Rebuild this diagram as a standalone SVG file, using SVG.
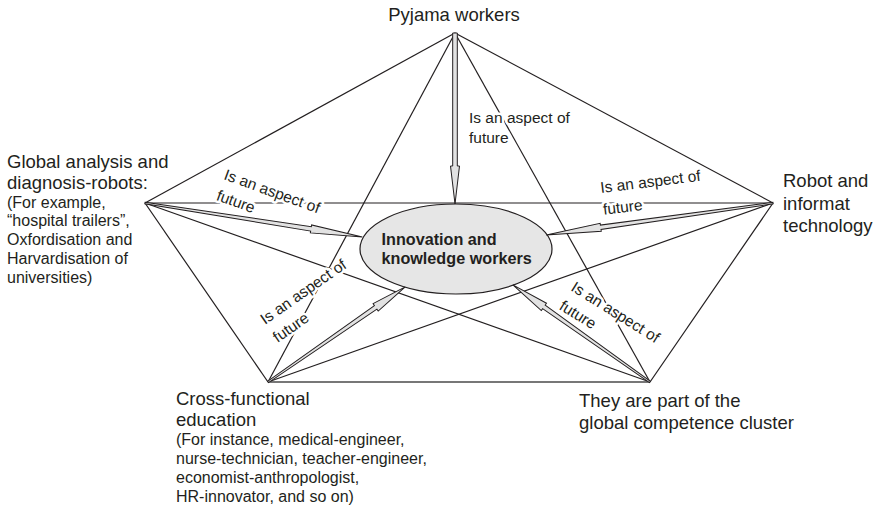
<svg xmlns="http://www.w3.org/2000/svg" width="878" height="510" viewBox="0 0 878 510">
<style>
  .edge { stroke: #231f20; stroke-width: 1.2; fill: none; }
  .base { stroke: #4a4a4a; stroke-width: 1.7; fill: none; }
  .arrow { fill: #e2e2e2; stroke: #231f20; stroke-width: 1; stroke-linejoin: miter; }
  .node { font-family: "Liberation Sans", Arial, sans-serif; font-size: 18.5px; fill: #231f20; }
  .small { font-size: 16px; }
  .center { font-family: "Liberation Sans", Arial, sans-serif; font-size: 16.2px; font-weight: bold; fill: #231f20; }
  .lbl { font-family: "Liberation Sans", Arial, sans-serif; font-size: 15.5px; fill: #231f20; stroke: #ffffff; stroke-width: 5; stroke-linejoin: round; paint-order: stroke; }
</style>
<rect x="0" y="0" width="878" height="510" fill="#ffffff"/>

<g id="connectors">
  <line class="edge" x1="455" y1="33" x2="145" y2="203"/>
  <line class="edge" x1="455" y1="33" x2="773" y2="203"/>
  <line class="edge" x1="145" y1="203" x2="268" y2="382"/>
  <line class="edge" x1="773" y1="203" x2="650" y2="382"/>
  <line class="base" x1="268" y1="382" x2="650" y2="382"/>
  <line class="edge" x1="455" y1="33" x2="268" y2="382"/>
  <line class="edge" x1="455" y1="33" x2="650" y2="382"/>
  <line class="edge" x1="145" y1="203" x2="773" y2="203"/>
  <line class="edge" x1="145" y1="203" x2="650" y2="382"/>
  <line class="edge" x1="773" y1="203" x2="268" y2="382"/>
</g>

<g id="innovation">
  <ellipse cx="456" cy="249" rx="96" ry="45" fill="#e6e6e6" stroke="#231f20" stroke-width="1.2"/>
  <text class="center" x="381.5" y="245">Innovation and</text>
  <text class="center" x="381.5" y="264">knowledge workers</text>
</g>

<g id="arrows">
  <polygon class="arrow" transform="translate(455,33) rotate(90)" points="0,-2.3 133,-2.3 133,-4.5 171,0 133,4.5 133,2.3 0,2.3"/>
  <polygon class="arrow" transform="translate(145,203) rotate(8.88)" points="0,-0.8 168,-2.2 168,-4 220,0 168,4 168,2.2 0,0.8"/>
  <polygon class="arrow" transform="translate(773,203) rotate(171.98)" points="0,-0.8 174,-2.2 174,-4 229,0 174,4 174,2.2 0,0.8"/>
  <polygon class="arrow" transform="translate(268,382) rotate(-34.74)" points="0,-0.8 131,-2.2 131,-4.5 167,0 131,4.5 131,2.2 0,0.8"/>
  <polygon class="arrow" transform="translate(650,382) rotate(-144.7)" points="0,-0.8 130,-2.2 130,-4.5 168,0 130,4.5 130,2.2 0,0.8"/>
</g>

<g id="labels">
  <g transform="translate(469,123)">
    <text class="lbl" x="0" y="0">Is an aspect of</text>
    <text class="lbl" x="0" y="20">future</text>
  </g>
  <g transform="translate(223,179) rotate(20)">
    <text class="lbl" x="0" y="0">Is an aspect of</text>
    <text class="lbl" x="0" y="22">future</text>
  </g>
  <g transform="translate(601,193) rotate(-7)">
    <text class="lbl" x="0" y="0">Is an aspect of</text>
    <text class="lbl" x="0" y="22">future</text>
  </g>
  <g transform="translate(265,325) rotate(-35)">
    <text class="lbl" x="0" y="0">Is an aspect of</text>
    <text class="lbl" x="0" y="22">future</text>
  </g>
  <g transform="translate(570,290) rotate(32)">
    <text class="lbl" x="0" y="0">Is an aspect of</text>
    <text class="lbl" x="0" y="22">future</text>
  </g>
</g>

<g id="pyjama">
  <text class="node" x="454" y="21" text-anchor="middle">Pyjama workers</text>
</g>

<g id="global-analysis">
  <text class="node" x="7" y="168">Global analysis and</text>
  <text class="node" x="7" y="188.5">diagnosis-robots:</text>
  <text class="node small" x="7" y="207.5">(For example,</text>
  <text class="node small" x="7" y="226">“hospital trailers”,</text>
  <text class="node small" x="7" y="245">Oxfordisation and</text>
  <text class="node small" x="7" y="263.5">Harvardisation of</text>
  <text class="node small" x="7" y="282.5">universities)</text>
</g>

<g id="robot">
  <text class="node" x="783" y="187">Robot and</text>
  <text class="node" x="783" y="209.5">informat</text>
  <text class="node" x="783" y="231.5">technology</text>
</g>

<g id="cross-functional">
  <text class="node" x="176" y="404.5">Cross-functional</text>
  <text class="node" x="176" y="425.5">education</text>
  <text class="node small" x="176" y="445">(For instance, medical-engineer,</text>
  <text class="node small" x="176" y="464">nurse-technician, teacher-engineer,</text>
  <text class="node small" x="176" y="483">economist-anthropologist,</text>
  <text class="node small" x="176" y="502">HR-innovator, and so on)</text>
</g>

<g id="competence-cluster">
  <text class="node" x="579" y="406.5">They are part of the</text>
  <text class="node" x="579" y="428.5">global competence cluster</text>
</g>
</svg>
